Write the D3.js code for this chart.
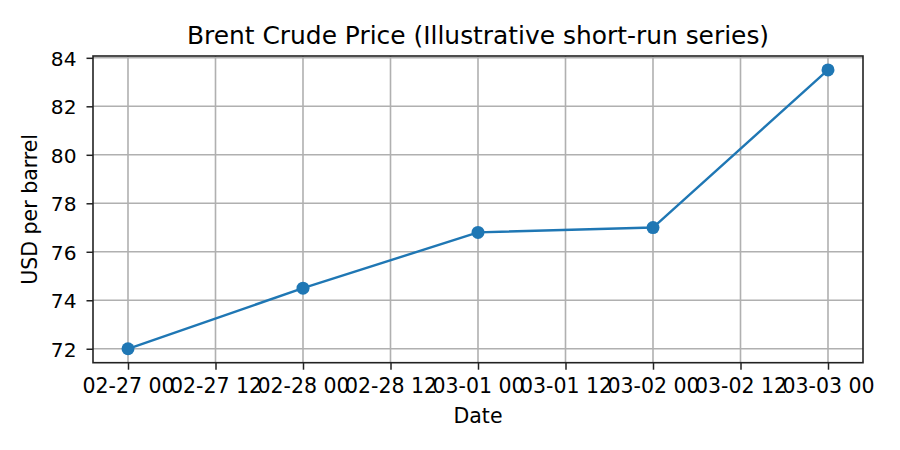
<!DOCTYPE html>
<html>
<head>
<meta charset="utf-8">
<script src="https://cdn.jsdelivr.net/npm/d3@7"></script>
<style>
  html, body { margin: 0; padding: 0; background: #fff; }
  svg { display: block; font-family: "DejaVu Sans", sans-serif; }
</style>
</head>
<body>
<svg id="chart" width="900" height="450"></svg>
<script>
// ---- data ----
const dates = ["2025-02-27", "2025-02-28", "2025-03-01", "2025-03-02", "2025-03-03"];
const prices = [72.0, 74.5, 76.8, 77.0, 83.5];
const yTicks = [72, 74, 76, 78, 80, 82, 84];
const xTickLabels = ["02-27 00", "02-27 12", "02-28 00", "02-28 12", "03-01 00", "03-01 12", "03-02 00", "03-02 12", "03-03 00"];
const title = "Brent Crude Price (Illustrative short-run series)";
const xLabel = "Date";
const yLabel = "USD per barrel";

// ---- layout ----
const W = 900, H = 450;
const mLeft = 93, mRight = 863, mTop = 56, mBottom = 362.7;

const parse = d3.utcParse("%Y-%m-%d");
const pts = dates.map((d, i) => ({ t: parse(d), v: prices[i] }));

const t0 = pts[0].t, t1 = pts[pts.length - 1].t;
const span = t1 - t0;
const x = d3.scaleUtc()
  .domain([new Date(+t0 - span * 0.05), new Date(+t1 + span * 0.05)])
  .range([mLeft, mRight]);

const vmin = d3.min(prices), vmax = d3.max(prices);
const vspan = vmax - vmin;
const y = d3.scaleLinear()
  .domain([vmin - vspan * 0.05, vmax + vspan * 0.05])
  .range([mBottom, mTop]);

const xTickVals = d3.utcHour.every(12).range(t0, new Date(+t1 + 1));
const xLabelFor = d => xTickLabels[xTickVals.findIndex(v => +v === +d)];

const svg = d3.select("#chart");

// grid
const grid = svg.append("g");
grid.selectAll("line.vx").data(xTickVals).enter().append("line")
  .attr("x1", d => x(d)).attr("x2", d => x(d))
  .attr("y1", mTop).attr("y2", mBottom)
  .attr("stroke", "#b0b0b0").attr("stroke-width", 1.6);
grid.selectAll("line.hy").data(yTicks).enter().append("line")
  .attr("x1", mLeft).attr("x2", mRight)
  .attr("y1", d => y(d)).attr("y2", d => y(d))
  .attr("stroke", "#b0b0b0").attr("stroke-width", 1.6);

// line + markers
const line = d3.line().x(d => x(d.t)).y(d => y(d.v));
svg.append("path").datum(pts)
  .attr("d", line)
  .attr("fill", "none")
  .attr("stroke", "#1f77b4")
  .attr("stroke-width", 2.4)
  .attr("stroke-linejoin", "round");
svg.selectAll("circle.pt").data(pts).enter().append("circle")
  .attr("cx", d => x(d.t)).attr("cy", d => y(d.v))
  .attr("r", 6.5).attr("fill", "#1f77b4");

// axes
const xAxis = d3.axisBottom(x).tickValues(xTickVals).tickFormat(xLabelFor).tickSize(7).tickPadding(4);
const gx = svg.append("g").attr("transform", `translate(0,${mBottom})`).call(xAxis);
gx.select(".domain").remove();
gx.selectAll(".tick line").attr("stroke", "#222").attr("stroke-width", 1.5);
gx.selectAll(".tick text").attr("y", 30.5).attr("dy", 0)
  .attr("font-size", 20.5).attr("fill", "#000")
  .attr("font-family", "DejaVu Sans");

const yAxis = d3.axisLeft(y).tickValues(yTicks).tickFormat(d3.format("d")).tickSize(6.5).tickPadding(4);
const gy = svg.append("g").attr("transform", `translate(${mLeft},0)`).call(yAxis);
gy.select(".domain").remove();
gy.selectAll(".tick line").attr("stroke", "#222").attr("stroke-width", 1.5);
gy.selectAll(".tick text").attr("x", -16.5).attr("dy", "0.36em")
  .attr("font-size", 20.2).attr("fill", "#000")
  .attr("font-family", "DejaVu Sans");

// spines
svg.append("rect")
  .attr("x", mLeft).attr("y", mTop)
  .attr("width", mRight - mLeft).attr("height", mBottom - mTop)
  .attr("fill", "none").attr("stroke", "#222").attr("stroke-width", 1.6);

// title and labels
svg.append("text")
  .attr("x", (mLeft + mRight) / 2).attr("y", 43.5)
  .attr("text-anchor", "middle")
  .attr("font-size", 24.9).attr("fill", "#000")
  .text(title);
svg.append("text")
  .attr("x", (mLeft + mRight) / 2).attr("y", 422.5)
  .attr("text-anchor", "middle")
  .attr("font-size", 20.5).attr("fill", "#000")
  .text(xLabel);
svg.append("text")
  .attr("transform", `translate(37,${(mTop + mBottom) / 2}) rotate(-90)`)
  .attr("text-anchor", "middle")
  .attr("font-size", 20.5).attr("fill", "#000")
  .text(yLabel);
</script>
</body>
</html>
